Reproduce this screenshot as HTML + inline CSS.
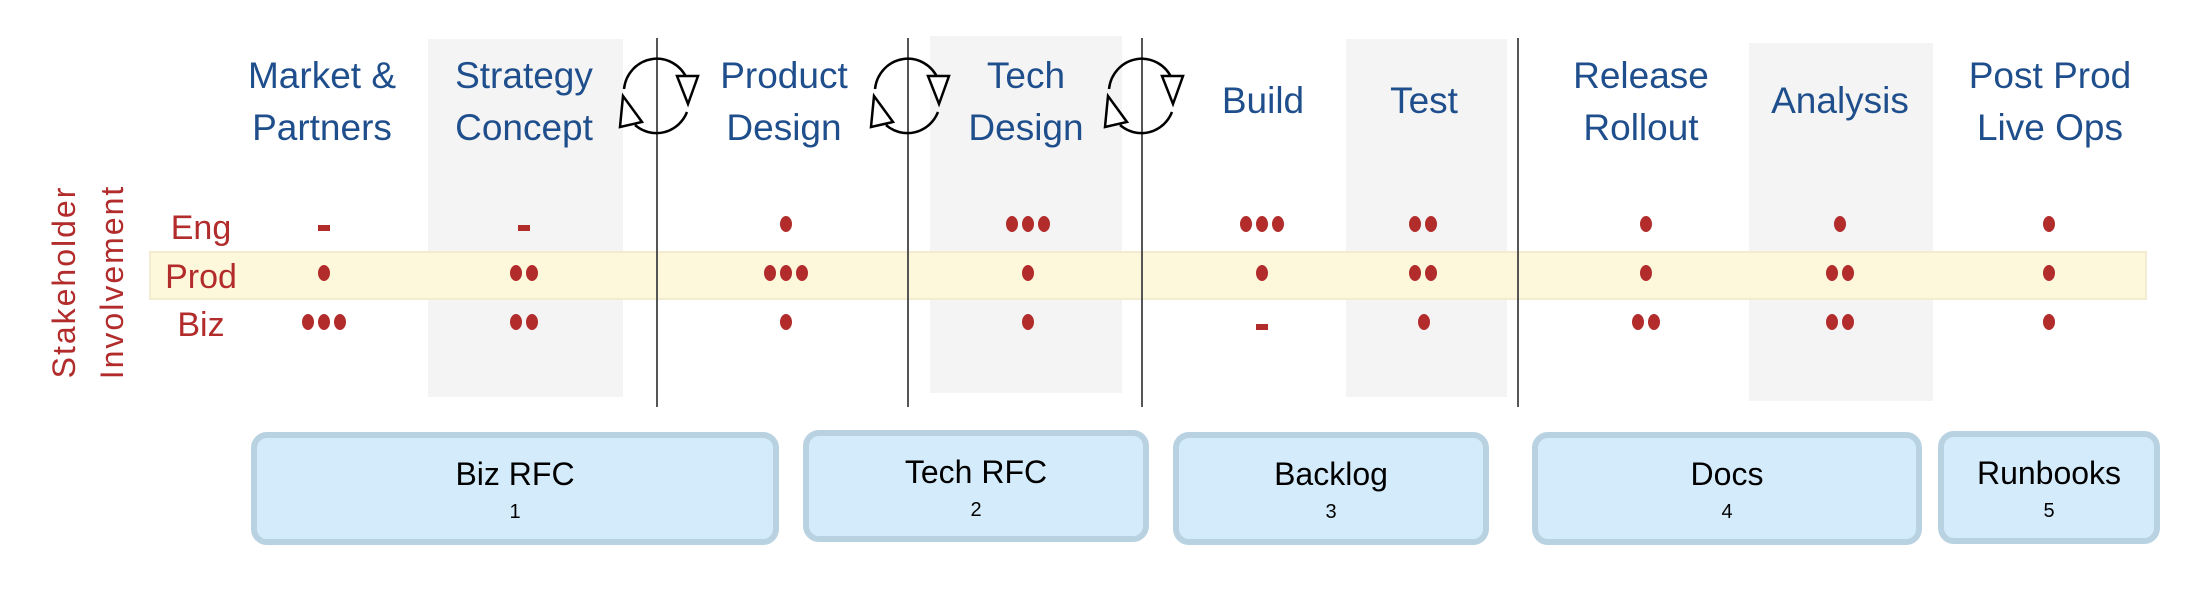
<!DOCTYPE html>
<html><head><meta charset="utf-8"><style>
html,body{margin:0;padding:0;background:#fff;}
svg{display:block;}
</style></head><body>
<svg width="2188" height="592" viewBox="0 0 2188 592" xmlns="http://www.w3.org/2000/svg" font-family="Liberation Sans, sans-serif">
<rect x="428" y="39" width="195" height="358" fill="#f4f4f4"/>
<rect x="930" y="36" width="192" height="357" fill="#f4f4f4"/>
<rect x="1346" y="39" width="161" height="358" fill="#f4f4f4"/>
<rect x="1749" y="43" width="184" height="358" fill="#f4f4f4"/>
<rect x="150" y="252" width="1996" height="47" fill="#fdf7dc" stroke="#f3ecd0" stroke-width="2"/>
<g stroke="#555" stroke-width="2">
<line x1="657" y1="38" x2="657" y2="407"/>
<line x1="908" y1="38" x2="908" y2="407"/>
<line x1="1142" y1="38" x2="1142" y2="407"/>
<line x1="1518" y1="38" x2="1518" y2="407"/>
</g>
<defs>
<g id="cyc" fill="none" stroke="#000" stroke-width="2.5">
<path d="M-33,-8 A33,34 0 0 1 30,-18"/>
<path d="M30,15 A33,34 0 0 1 -22,28"/>
<polygon points="20,-21 41,-21 31,7" fill="#fff"/>
<polygon points="-34,-1 -37,30 -15,25" fill="#fff"/>
</g>
<g id="d"><ellipse cx="0" cy="0" rx="6" ry="8"/></g>
</defs>
<use href="#cyc" x="657" y="97"/>
<use href="#cyc" x="908" y="97"/>
<use href="#cyc" x="1142" y="97"/>
<g fill="#1f4e8c" font-size="37" text-anchor="middle">
<text x="322" y="88">Market &amp;</text><text x="322" y="140">Partners</text>
<text x="524" y="88">Strategy</text><text x="524" y="140">Concept</text>
<text x="784" y="88">Product</text><text x="784" y="140">Design</text>
<text x="1026" y="88">Tech</text><text x="1026" y="140">Design</text>
<text x="1263" y="113">Build</text>
<text x="1424" y="113">Test</text>
<text x="1641" y="88">Release</text><text x="1641" y="140">Rollout</text>
<text x="1840" y="113">Analysis</text>
<text x="2050" y="88">Post Prod</text><text x="2050" y="140">Live Ops</text>
</g>
<g fill="#b22c2c" font-size="34" text-anchor="middle">
<text x="201" y="239">Eng</text>
<text x="201" y="288">Prod</text>
<text x="201" y="336">Biz</text>
<text transform="translate(75,282) rotate(-90)" font-size="32" letter-spacing="2">Stakeholder</text>
<text transform="translate(123,282) rotate(-90)" font-size="32" letter-spacing="2">Involvement</text>
</g>
<g fill="#b22c2c">
<rect x="318" y="225" width="12" height="6"/>
<rect x="518" y="225" width="12" height="6"/>
<use href="#d" x="786" y="224"/>
<use href="#d" x="1012" y="224"/><use href="#d" x="1028" y="224"/><use href="#d" x="1044" y="224"/>
<use href="#d" x="1246" y="224"/><use href="#d" x="1262" y="224"/><use href="#d" x="1278" y="224"/>
<use href="#d" x="1415" y="224"/><use href="#d" x="1431" y="224"/>
<use href="#d" x="1646" y="224"/>
<use href="#d" x="1840" y="224"/>
<use href="#d" x="2049" y="224"/>
<use href="#d" x="324" y="273"/>
<use href="#d" x="516" y="273"/><use href="#d" x="532" y="273"/>
<use href="#d" x="770" y="273"/><use href="#d" x="786" y="273"/><use href="#d" x="802" y="273"/>
<use href="#d" x="1028" y="273"/>
<use href="#d" x="1262" y="273"/>
<use href="#d" x="1415" y="273"/><use href="#d" x="1431" y="273"/>
<use href="#d" x="1646" y="273"/>
<use href="#d" x="1832" y="273"/><use href="#d" x="1848" y="273"/>
<use href="#d" x="2049" y="273"/>
<use href="#d" x="308" y="322"/><use href="#d" x="324" y="322"/><use href="#d" x="340" y="322"/>
<use href="#d" x="516" y="322"/><use href="#d" x="532" y="322"/>
<use href="#d" x="786" y="322"/>
<use href="#d" x="1028" y="322"/>
<rect x="1256" y="324" width="12" height="6"/>
<use href="#d" x="1424" y="322"/>
<use href="#d" x="1638" y="322"/><use href="#d" x="1654" y="322"/>
<use href="#d" x="1832" y="322"/><use href="#d" x="1848" y="322"/>
<use href="#d" x="2049" y="322"/>
</g>
<g fill="#d3ebfb" stroke="#b8d2e2" stroke-width="6">
<rect x="254" y="435" width="522" height="107" rx="13"/>
<rect x="806" y="433" width="340" height="106" rx="13"/>
<rect x="1176" y="435" width="310" height="107" rx="13"/>
<rect x="1535" y="435" width="384" height="107" rx="13"/>
<rect x="1941" y="434" width="216" height="107" rx="13"/>
</g>
<g fill="#000" text-anchor="middle">
<g font-size="32">
<text x="515" y="485">Biz RFC</text>
<text x="976" y="483">Tech RFC</text>
<text x="1331" y="485">Backlog</text>
<text x="1727" y="485">Docs</text>
<text x="2049" y="484">Runbooks</text>
</g>
<g font-size="20">
<text x="515" y="518">1</text>
<text x="976" y="516">2</text>
<text x="1331" y="518">3</text>
<text x="1727" y="518">4</text>
<text x="2049" y="517">5</text>
</g>
</g>
</svg>
</body></html>
